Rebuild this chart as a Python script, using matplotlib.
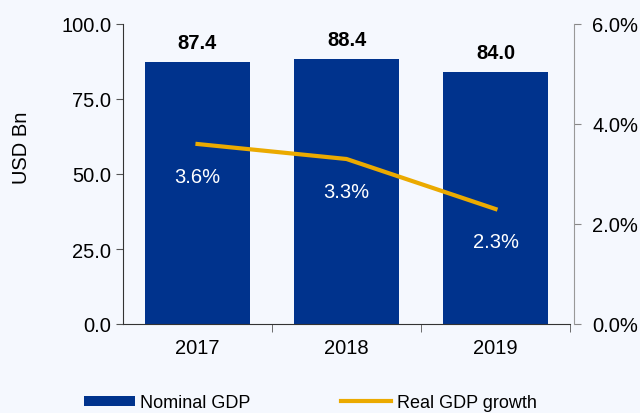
import numpy as np
import matplotlib.pyplot as plt
from matplotlib.patches import Patch
from matplotlib.lines import Line2D

plt.rcParams['font.family'] = ['Liberation Sans', 'DejaVu Sans']

years = ["2017", "2018", "2019"]
nominal_gdp = [87.4, 88.4, 84.0]
real_growth = [3.6, 3.3, 2.3]

bar_color = "#00338D"
line_color = "#EBAA00"
bg = "#F5F8FE"

fig = plt.figure(figsize=(6.4, 4.14), dpi=100, facecolor=bg)
ax = fig.add_axes([123 / 640, 1 - 325 / 414, 447 / 640, 300 / 414])
ax.set_facecolor(bg)

x = np.arange(len(years))
ax.bar(x, nominal_gdp, width=0.71, color=bar_color, zorder=2)
ax.set_xlim(-0.5, 2.5)
ax.set_ylim(0, 100)
ax.set_yticks([0, 25, 50, 75, 100])
ax.set_yticklabels([f"{v:.1f}" for v in [0, 25, 50, 75, 100]])
ax.set_xticks(x)
ax.set_xticklabels(years)
ax.set_xticks([0.5, 1.5, 2.5], minor=True)
ax.tick_params(axis="x", which="major", length=0, pad=10, labelsize=14.5)
ax.tick_params(axis="x", which="minor", length=6, direction="out", color="#555555")
ax.tick_params(axis="y", length=5, color="#555555", labelsize=14.5)
ax.set_ylabel("USD Bn", fontsize=14.5)
ax.yaxis.set_label_coords(-0.205, 0.59)
for s in ["top", "right"]:
    ax.spines[s].set_visible(False)
for s in ["left", "bottom"]:
    ax.spines[s].set_color("#333333")

for xi, v in zip(x, nominal_gdp):
    ax.text(xi, v + 3.2, f"{v:.1f}", ha="center", va="bottom", fontsize=14.5, fontweight="bold")

ax2 = ax.twinx()
ax2.plot(x, real_growth, color=line_color, linewidth=3, zorder=3)
ax2.set_ylim(0, 6)
ax2.set_yticks([0, 2, 4, 6])
ax2.set_yticklabels([f"{v:.1f}%" for v in [0, 2, 4, 6]])
ax2.tick_params(axis="y", length=5, color="#888888", pad=8, labelsize=14.5)
for s in ["top", "left", "bottom"]:
    ax2.spines[s].set_visible(False)
ax2.spines["right"].set_color("#999999")
ax2.spines["right"].set_position(("outward", 3))

for xi, v in zip(x, real_growth):
    ax2.text(xi, v - 0.66, f"{v:.1f}%", ha="center", va="center", fontsize=14.5, color="white")

handles = [Patch(facecolor=bar_color), Line2D([0], [0], color=line_color, linewidth=3)]
fig.legend(handles, ["Nominal GDP", "Real GDP growth"], loc="lower center",
           bbox_to_anchor=(0.485, -0.035), ncol=2, frameon=False, fontsize=13,
           handlelength=2.8, handleheight=0.5, columnspacing=5.0, handletextpad=0.3)

fig.savefig("out.png", dpi=100, facecolor=bg)
